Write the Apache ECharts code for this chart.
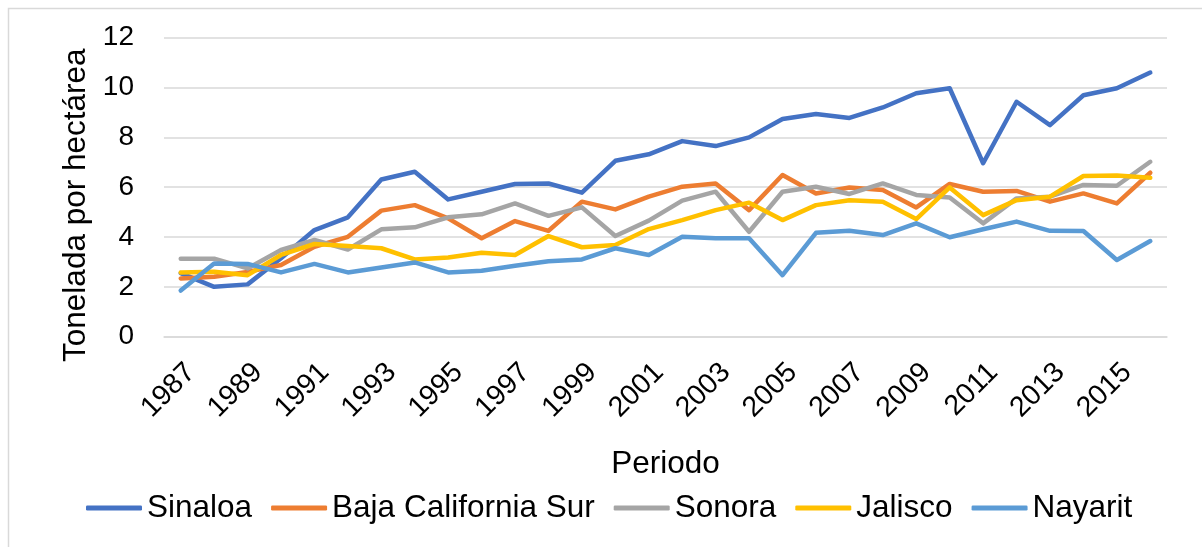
<!DOCTYPE html>
<html>
<head>
<meta charset="utf-8">
<script src="https://cdn.jsdelivr.net/npm/echarts@6/dist/echarts.min.js"></script>
<style>
html,body{margin:0;padding:0;background:#fff;}
#chart{width:1202px;height:547px;}
</style>
</head>
<body>
<div id="chart"></div>
<script>
const years = ['1987','1988','1989','1990','1991','1992','1993','1994','1995','1996','1997','1998','1999','2000','2001','2002','2003','2004','2005','2006','2007','2008','2009','2010','2011','2012','2013','2014','2015','2016'];
const sinaloa = [2.55, 2.0, 2.1, 3.15, 4.28, 4.79, 6.31, 6.62, 5.51, 5.82, 6.13, 6.15, 5.78, 7.06, 7.32, 7.85, 7.65, 8.0, 8.74, 8.94, 8.78, 9.2, 9.77, 9.97, 6.96, 9.43, 8.49, 9.69, 9.97, 10.6];
const bajaCaliforniaSur = [2.34, 2.41, 2.6, 2.88, 3.61, 4.01, 5.06, 5.28, 4.75, 3.95, 4.64, 4.25, 5.42, 5.11, 5.62, 6.02, 6.15, 5.08, 6.49, 5.75, 5.99, 5.89, 5.19, 6.13, 5.82, 5.85, 5.42, 5.75, 5.35, 6.58];
const sonora = [3.13, 3.13, 2.74, 3.48, 3.88, 3.5, 4.31, 4.39, 4.79, 4.91, 5.35, 4.85, 5.19, 4.04, 4.66, 5.46, 5.82, 4.21, 5.82, 6.02, 5.73, 6.15, 5.69, 5.59, 4.55, 5.55, 5.62, 6.09, 6.06, 7.02];
const jalisco = [2.58, 2.61, 2.47, 3.28, 3.72, 3.64, 3.55, 3.1, 3.18, 3.37, 3.28, 4.04, 3.59, 3.68, 4.32, 4.68, 5.08, 5.38, 4.68, 5.28, 5.48, 5.42, 4.72, 5.99, 4.88, 5.48, 5.62, 6.45, 6.47, 6.38];
const nayarit = [1.85, 2.94, 2.92, 2.58, 2.92, 2.58, 2.78, 2.98, 2.58, 2.65, 2.85, 3.03, 3.10, 3.55, 3.28, 4.01, 3.95, 3.95, 2.47, 4.17, 4.25, 4.08, 4.55, 3.99, 4.31, 4.62, 4.25, 4.24, 3.08, 3.84];
const seriesNames = ['Sinaloa','Baja California Sur','Sonora','Jalisco','Nayarit'];
const seriesColors = ['#4472C4','#ED7D31','#A5A5A5','#FFC000','#5B9BD5'];
const seriesData = [sinaloa, bajaCaliforniaSur, sonora, jalisco, nayarit];

const font = '"Liberation Sans", Arial, sans-serif';
const chart = echarts.init(document.getElementById('chart'), null, {renderer:'canvas'});
chart.setOption({
  animation: false,
  backgroundColor: '#fff',
  textStyle: {fontFamily: font, color: '#000'},
  graphic: [{
    type: 'rect', left: 6, top: 6, silent: true,
    shape: {width: 1200, height: 545},
    style: {fill: 'none', stroke: '#d9d9d9', lineWidth: 1.5}
  }],
  grid: {left: 164, right: 35, top: 37.7, bottom: 210.3, containLabel: false},
  legend: {
    left: 86, top: 492, padding: 0,
    itemWidth: 56, itemHeight: 5, itemGap: 19,
    icon: 'roundRect',
    textStyle: {fontFamily: font, fontSize: 31.5, color: '#000'},
    data: seriesNames
  },
  xAxis: {
    type: 'category', data: years, boundaryGap: true,
    name: 'Periodo', nameLocation: 'middle', nameGap: 112,
    nameTextStyle: {fontFamily: font, fontSize: 31.5, color: '#000'},
    axisLine: {show: true, lineStyle: {color: '#d9d9d9', width: 1.5}},
    axisTick: {show: false},
    axisLabel: {interval: 1, rotate: 45, margin: 21, verticalAlign: 'top', fontFamily: font, fontSize: 28.5, color: '#000'},
    splitLine: {show: false}
  },
  yAxis: {
    type: 'value', min: 0, max: 12, interval: 2,
    name: 'Tonelada por hectárea', nameLocation: 'middle', nameGap: 66,
    nameTextStyle: {fontFamily: font, fontSize: 31.5, color: '#000', padding: [0, 36, 0, 0]},
    axisLine: {show: false}, axisTick: {show: false},
    axisLabel: {margin: 30, fontFamily: font, fontSize: 28, color: '#000'},
    splitLine: {lineStyle: {color: '#d9d9d9', width: 1.5}}
  },
  series: seriesNames.map((n, i) => ({
    name: n, type: 'line', data: seriesData[i],
    symbol: 'none', smooth: false,
    color: seriesColors[i],
    lineStyle: {width: 4.5, color: seriesColors[i], cap: 'round', join: 'round'}
  }))
});
</script>
</body>
</html>
